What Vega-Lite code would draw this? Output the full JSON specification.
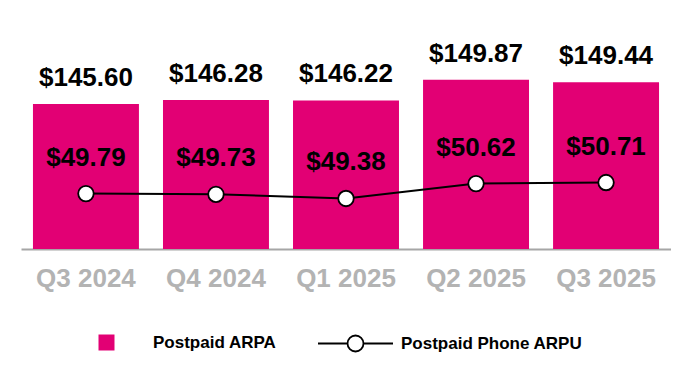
{
  "$schema": "https://vega.github.io/schema/vega-lite/v6.json",
  "width": 650,
  "height": 225,
  "padding": {"left": 21, "top": 24, "right": 0, "bottom": 0},
  "background": "white",
  "config": {
    "view": {"stroke": null},
    "font": "Liberation Sans",
    "text": {"font": "Liberation Sans"}
  },
  "data": {
    "values": [
      {"quarter": "Q3 2024", "arpa": 145.60, "arpu": 49.79},
      {"quarter": "Q4 2024", "arpa": 146.28, "arpu": 49.73},
      {"quarter": "Q1 2025", "arpa": 146.22, "arpu": 49.38},
      {"quarter": "Q2 2025", "arpa": 149.87, "arpu": 50.62},
      {"quarter": "Q3 2025", "arpa": 149.44, "arpu": 50.71}
    ]
  },
  "encoding": {
    "x": {
      "field": "quarter",
      "type": "nominal",
      "sort": null,
      "scale": {"paddingInner": 0.185, "paddingOuter": 0.092},
      "axis": {
        "title": null,
        "labelAngle": 0,
        "ticks": false,
        "domainColor": "#a6a6a6",
        "domainWidth": 2,
        "labelColor": "#b3b3b3",
        "labelFont": "Liberation Sans",
        "labelFontSize": 26,
        "labelFontWeight": "bold",
        "labelPadding": 16,
        "labelLimit": 0
      }
    }
  },
  "layer": [
    {
      "encoding": {
        "y": {
          "field": "arpa",
          "type": "quantitative",
          "scale": {"domain": [119.8, 159.8], "zero": false, "nice": false},
          "axis": null
        }
      },
      "layer": [
        {
          "mark": {"type": "bar", "clip": true},
          "encoding": {
            "fill": {
              "datum": "Postpaid ARPA",
              "type": "nominal",
              "scale": {"range": ["#E20074"]},
              "legend": {
                "title": null,
                "orient": "none",
                "legendX": 77,
                "legendY": 310,
                "symbolType": "square",
                "symbolSize": 256,
                "symbolStrokeWidth": 0,
                "labelFont": "Liberation Sans",
                "labelFontSize": 17,
                "labelFontWeight": "bold",
                "labelColor": "#000000",
                "labelOffset": 38,
                "labelLimit": 0
              }
            }
          }
        },
        {
          "mark": {
            "type": "text",
            "baseline": "alphabetic",
            "dy": -18,
            "fontSize": 26,
            "fontWeight": "bold",
            "color": "#000000"
          },
          "encoding": {
            "text": {"field": "arpa", "type": "quantitative", "format": "$.2f"}
          }
        }
      ]
    },
    {
      "encoding": {
        "y": {
          "field": "arpu",
          "type": "quantitative",
          "scale": {"domain": [45.17, 63.92], "zero": false, "nice": false},
          "axis": null
        }
      },
      "layer": [
        {
          "mark": {"type": "line", "strokeWidth": 2},
          "encoding": {
            "stroke": {
              "datum": "Postpaid Phone ARPU",
              "type": "nominal",
              "scale": {"range": ["#000000"]},
              "legend": {
                "title": null,
                "orient": "none",
                "legendX": 296,
                "legendY": 281,
                "symbolType": "M-1,0H-0.213M0.213,0H1M-0.213,0A0.213,0.213 0 1,0 0.213,0A0.213,0.213 0 1,0 -0.213,0Z",
                "symbolSize": 5625,
                "symbolStrokeWidth": 1.8,
                "symbolStrokeColor": "#000000",
                "symbolFillColor": "#ffffff",
                "labelFont": "Liberation Sans",
                "labelFontSize": 17,
                "labelFontWeight": "bold",
                "labelColor": "#000000",
                "labelOffset": 7,
                "labelLimit": 0,
                "encode": {
                  "symbols": {"update": {"fill": {"value": "#ffffff"}, "stroke": {"value": "#000000"}}}
                }
              }
            }
          }
        },
        {
          "mark": {
            "type": "point",
            "shape": "circle",
            "filled": true,
            "fill": "#ffffff",
            "stroke": "#000000",
            "strokeWidth": 1.8,
            "size": 240,
            "opacity": 1
          }
        },
        {
          "mark": {
            "type": "text",
            "baseline": "alphabetic",
            "dy": -28,
            "fontSize": 26,
            "fontWeight": "bold",
            "color": "#000000"
          },
          "encoding": {
            "text": {"field": "arpu", "type": "quantitative", "format": "$.2f"}
          }
        }
      ]
    }
  ],
  "resolve": {"scale": {"y": "independent"}}
}
